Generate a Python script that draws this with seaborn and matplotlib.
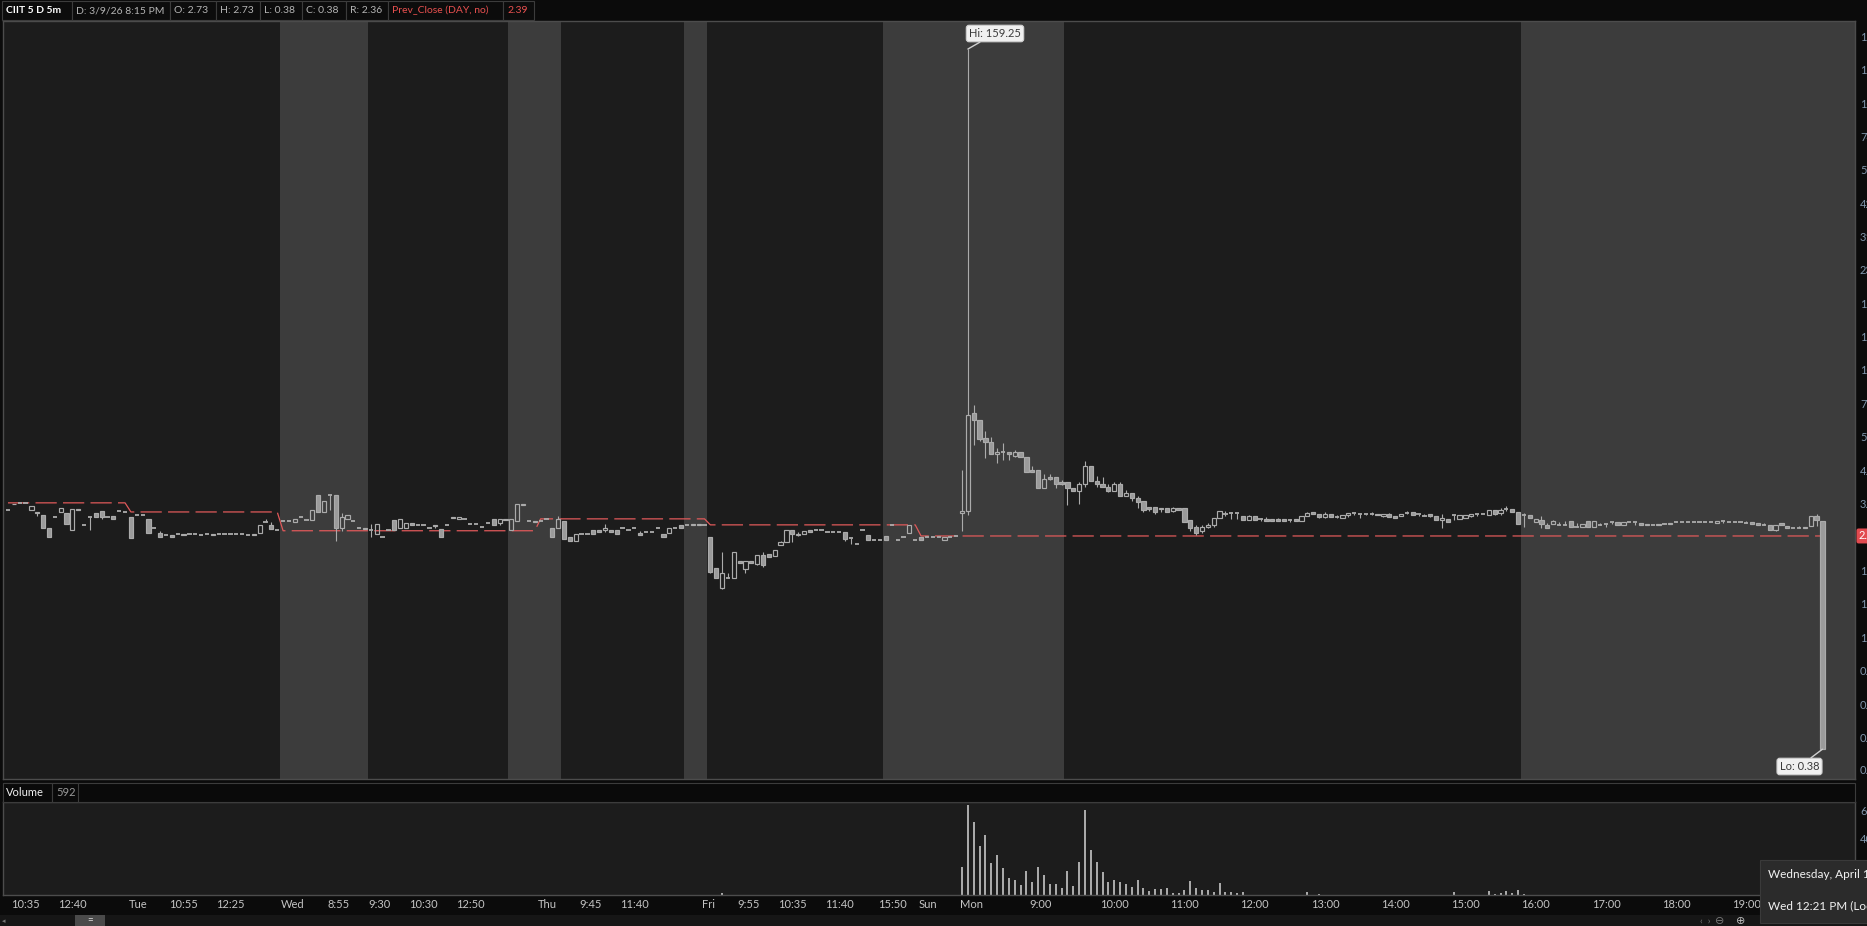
import numpy as np
import pandas as pd
import matplotlib
matplotlib.use("Agg")
import matplotlib.pyplot as plt
import matplotlib.transforms as mtransforms
from matplotlib.patches import Rectangle
import seaborn as sns

# ---------------- data ----------------
opens = [
    2.99, 3.16, 3.18, 3.18, 2.99, 2.95, 2.86, 2.56, 2.81, 2.94,
    2.92, 2.51, 3.01, 2.63, 2.82, 2.92, 2.96, 2.82, 2.83, 2.96,
    2.94, 2.81, 2.86, 2.86, 2.77, 2.56, 2.45, 2.42, 2.40, 2.44,
    2.44, 2.44, 2.44, 2.40, 2.44, 2.44, 2.44, 2.44, 2.44, 2.44,
    2.44, 2.42, 2.44, 2.45, 2.69, 2.63, 2.51, 2.73, 2.73, 2.70,
    2.82, 2.75, 2.75, 3.40, 2.93, 3.40, 3.40, 2.56, 2.77, 2.73,
    2.56, 2.56, 2.52, 2.43, 2.36, 2.52, 2.75, 2.56, 2.56, 2.67,
    2.63, 2.63, 2.56, 2.63, 2.54, 2.63, 2.82, 2.77, 2.77, 2.66,
    2.66, 2.59, 2.68, 2.77, 2.68, 2.77, 2.52, 2.73, 3.15, 2.73,
    2.73, 2.73, 2.77, 2.57, 2.56, 2.71, 2.37, 2.29, 2.44, 2.44,
    2.51, 2.51, 2.51, 2.51, 2.51, 2.55, 2.51, 2.55, 2.45, 2.48,
    2.48, 2.55, 2.44, 2.45, 2.55, 2.63, 2.63, 2.65, 2.65, 2.63,
    2.37, 1.82, 1.53, 1.66, 1.66, 1.92, 1.79, 1.92, 1.88, 2.02,
    2.05, 2.01, 2.21, 2.27, 2.51, 2.40, 2.44, 2.51, 2.51, 2.51,
    2.48, 2.48, 2.48, 2.48, 2.35, 2.23, 2.51, 2.42, 2.31, 2.31,
    2.38, 2.63, 2.31, 2.37, 2.45, 2.31, 2.37, 2.37, 2.37, 2.37,
    2.30, 2.37, 2.38, 2.92, 2.97, 6.89, 6.49, 5.57, 5.37, 4.84,
    4.92, 4.95, 4.78, 4.91, 4.73, 4.21, 4.21, 3.61, 3.98, 3.98,
    3.82, 3.82, 3.62, 3.51, 3.74, 4.38, 3.85, 3.74, 3.66, 3.51,
    3.74, 3.37, 3.47, 3.33, 3.24, 3.06, 3.06, 3.01, 3.05, 2.96,
    3.04, 3.03, 2.75, 2.58, 2.50, 2.58, 2.62, 2.78, 2.90, 2.91,
    2.91, 2.85, 2.74, 2.83, 2.77, 2.77, 2.77, 2.77, 2.77, 2.74,
    2.76, 2.73, 2.85, 2.93, 2.90, 2.82, 2.90, 2.82, 2.80, 2.86,
    2.92, 2.89, 2.89, 2.90, 2.90, 2.84, 2.89, 2.84, 2.85, 2.92,
    2.94, 2.88, 2.85, 2.89, 2.84, 2.74, 2.77, 2.86, 2.77, 2.79,
    2.83, 2.88, 2.88, 2.87, 2.99, 2.91, 3.01, 3.01, 2.95, 2.86,
    2.87, 2.70, 2.75, 2.62, 2.65, 2.63, 2.63, 2.71, 2.59, 2.59,
    2.71, 2.58, 2.63, 2.65, 2.70, 2.70, 2.63, 2.70, 2.70, 2.67,
    2.65, 2.63, 2.65, 2.65, 2.67, 2.69, 2.70, 2.70, 2.70, 2.70,
    2.70, 2.70, 2.68, 2.73, 2.70, 2.70, 2.70, 2.68, 2.69, 2.67,
    2.63, 2.63, 2.52, 2.67, 2.61, 2.56, 2.56, 2.59, 2.60, 2.85, 2.73,
]
highs = [
    2.99, 3.16, 3.18, 3.18, 3.10, 2.95, 2.86, 2.56, 2.81, 3.04,
    2.92, 3.01, 3.01, 2.63, 2.82, 2.92, 2.96, 2.82, 2.83, 2.96,
    2.94, 2.81, 2.86, 2.86, 2.77, 2.56, 2.49, 2.42, 2.40, 2.44,
    2.44, 2.44, 2.44, 2.40, 2.44, 2.44, 2.44, 2.44, 2.44, 2.44,
    2.44, 2.42, 2.44, 2.63, 2.77, 2.69, 2.51, 2.73, 2.73, 2.77,
    2.82, 2.75, 2.99, 3.40, 3.23, 3.40, 3.40, 2.92, 2.87, 2.73,
    2.56, 2.56, 2.65, 2.65, 2.36, 2.52, 2.75, 2.77, 2.68, 2.67,
    2.63, 2.63, 2.56, 2.63, 2.54, 2.63, 2.82, 2.82, 2.77, 2.66,
    2.66, 2.59, 2.68, 2.77, 2.77, 2.77, 2.77, 3.15, 3.15, 2.73,
    2.73, 2.73, 2.77, 2.57, 2.83, 2.71, 2.37, 2.44, 2.44, 2.44,
    2.51, 2.51, 2.64, 2.51, 2.51, 2.55, 2.51, 2.55, 2.49, 2.48,
    2.48, 2.55, 2.44, 2.55, 2.55, 2.63, 2.63, 2.65, 2.65, 2.63,
    2.37, 1.82, 2.09, 1.74, 2.09, 1.92, 1.92, 1.92, 2.02, 2.09,
    2.05, 2.12, 2.28, 2.51, 2.51, 2.47, 2.49, 2.51, 2.51, 2.51,
    2.48, 2.48, 2.48, 2.48, 2.35, 2.23, 2.51, 2.42, 2.31, 2.31,
    2.38, 2.63, 2.31, 2.37, 2.63, 2.31, 2.37, 2.37, 2.37, 2.37,
    2.37, 2.37, 2.38, 4.22, 159.25, 7.40, 6.49, 5.90, 5.62, 5.09,
    5.35, 4.95, 5.01, 4.95, 4.73, 4.38, 4.21, 4.08, 4.07, 3.98,
    3.88, 3.82, 3.62, 3.82, 4.57, 4.38, 4.01, 3.98, 3.74, 3.82,
    3.82, 3.55, 3.47, 3.38, 3.24, 3.07, 3.06, 3.05, 3.05, 3.06,
    3.04, 3.03, 2.75, 2.63, 2.63, 2.67, 2.78, 2.97, 2.97, 2.95,
    2.91, 2.85, 2.87, 2.83, 2.80, 2.81, 2.77, 2.78, 2.77, 2.77,
    2.76, 2.85, 2.95, 2.95, 2.90, 2.93, 2.90, 2.87, 2.86, 2.92,
    2.92, 2.89, 2.89, 2.93, 2.90, 2.90, 2.92, 2.84, 2.89, 2.96,
    2.94, 2.88, 2.90, 2.89, 2.84, 2.88, 2.77, 2.86, 2.86, 2.86,
    2.90, 2.90, 2.88, 2.99, 2.99, 3.03, 3.09, 3.01, 2.95, 2.92,
    2.87, 2.77, 2.85, 2.68, 2.75, 2.69, 2.72, 2.71, 2.68, 2.65,
    2.71, 2.71, 2.67, 2.65, 2.70, 2.70, 2.70, 2.70, 2.70, 2.67,
    2.65, 2.63, 2.65, 2.67, 2.67, 2.71, 2.70, 2.70, 2.70, 2.70,
    2.70, 2.70, 2.73, 2.73, 2.70, 2.70, 2.70, 2.71, 2.69, 2.67,
    2.67, 2.63, 2.63, 2.67, 2.61, 2.56, 2.60, 2.59, 2.83, 2.88, 2.73,
]
lows = [
    2.99, 3.14, 3.18, 3.18, 2.99, 2.85, 2.55, 2.37, 2.81, 2.94,
    2.65, 2.51, 2.98, 2.63, 2.51, 2.82, 2.77, 2.82, 2.77, 2.96,
    2.94, 2.34, 2.86, 2.86, 2.45, 2.56, 2.37, 2.42, 2.37, 2.44,
    2.41, 2.44, 2.44, 2.40, 2.44, 2.42, 2.44, 2.44, 2.44, 2.44,
    2.44, 2.42, 2.41, 2.45, 2.69, 2.54, 2.51, 2.73, 2.73, 2.70,
    2.82, 2.75, 2.75, 2.93, 2.93, 2.99, 2.29, 2.49, 2.77, 2.73,
    2.56, 2.54, 2.36, 2.43, 2.36, 2.52, 2.51, 2.56, 2.56, 2.63,
    2.63, 2.63, 2.56, 2.56, 2.37, 2.63, 2.79, 2.77, 2.77, 2.66,
    2.66, 2.59, 2.68, 2.63, 2.62, 2.74, 2.52, 2.73, 3.12, 2.73,
    2.69, 2.73, 2.77, 2.36, 2.56, 2.33, 2.29, 2.29, 2.44, 2.44,
    2.44, 2.48, 2.48, 2.48, 2.44, 2.55, 2.51, 2.55, 2.42, 2.48,
    2.48, 2.55, 2.37, 2.45, 2.55, 2.55, 2.63, 2.62, 2.62, 2.63,
    1.74, 1.66, 1.51, 1.66, 1.66, 1.89, 1.74, 1.89, 1.86, 1.83,
    2.00, 2.01, 2.21, 2.27, 2.27, 2.38, 2.44, 2.48, 2.51, 2.51,
    2.48, 2.48, 2.48, 2.29, 2.23, 2.23, 2.51, 2.31, 2.31, 2.31,
    2.31, 2.63, 2.31, 2.37, 2.45, 2.31, 2.30, 2.36, 2.37, 2.37,
    2.30, 2.37, 2.38, 2.49, 2.87, 5.24, 5.40, 4.70, 4.84, 4.48,
    4.61, 4.61, 4.72, 4.73, 4.16, 4.16, 3.61, 3.61, 3.86, 3.61,
    3.70, 3.11, 3.51, 3.15, 3.64, 3.84, 3.64, 3.64, 3.48, 3.51,
    3.37, 3.37, 3.22, 3.04, 2.93, 2.97, 2.90, 2.94, 2.93, 2.94,
    3.00, 2.69, 2.49, 2.42, 2.45, 2.56, 2.58, 2.78, 2.85, 2.77,
    2.77, 2.74, 2.74, 2.74, 2.73, 2.72, 2.72, 2.72, 2.72, 2.70,
    2.72, 2.73, 2.85, 2.89, 2.79, 2.79, 2.82, 2.78, 2.80, 2.82,
    2.86, 2.79, 2.86, 2.86, 2.87, 2.81, 2.81, 2.80, 2.85, 2.89,
    2.86, 2.83, 2.83, 2.82, 2.75, 2.56, 2.70, 2.75, 2.77, 2.79,
    2.81, 2.84, 2.88, 2.87, 2.86, 2.87, 2.96, 2.94, 2.65, 2.59,
    2.79, 2.70, 2.56, 2.56, 2.65, 2.63, 2.63, 2.58, 2.59, 2.59,
    2.58, 2.58, 2.63, 2.58, 2.65, 2.63, 2.63, 2.70, 2.63, 2.63,
    2.62, 2.63, 2.62, 2.65, 2.65, 2.69, 2.70, 2.70, 2.70, 2.70,
    2.70, 2.70, 2.68, 2.67, 2.70, 2.70, 2.70, 2.68, 2.65, 2.63,
    2.63, 2.51, 2.49, 2.62, 2.56, 2.56, 2.56, 2.56, 2.60, 2.60, 0.38,
]
closes = [
    2.99, 3.14, 3.18, 3.18, 3.10, 2.91, 2.55, 2.37, 2.81, 3.04,
    2.65, 3.01, 2.98, 2.63, 2.82, 2.82, 2.82, 2.82, 2.77, 2.96,
    2.94, 2.34, 2.86, 2.86, 2.45, 2.56, 2.37, 2.42, 2.37, 2.44,
    2.41, 2.44, 2.44, 2.40, 2.44, 2.42, 2.44, 2.44, 2.44, 2.44,
    2.44, 2.42, 2.41, 2.63, 2.69, 2.54, 2.51, 2.73, 2.73, 2.77,
    2.82, 2.75, 2.99, 2.93, 3.23, 3.40, 2.56, 2.81, 2.87, 2.73,
    2.56, 2.54, 2.52, 2.65, 2.36, 2.52, 2.51, 2.77, 2.68, 2.63,
    2.63, 2.63, 2.56, 2.60, 2.37, 2.63, 2.79, 2.82, 2.77, 2.66,
    2.66, 2.59, 2.68, 2.63, 2.77, 2.74, 2.77, 3.15, 3.12, 2.73,
    2.69, 2.73, 2.77, 2.36, 2.77, 2.33, 2.29, 2.44, 2.44, 2.44,
    2.44, 2.48, 2.56, 2.48, 2.44, 2.55, 2.51, 2.55, 2.42, 2.48,
    2.48, 2.55, 2.37, 2.55, 2.55, 2.55, 2.63, 2.62, 2.62, 2.63,
    1.75, 1.66, 1.74, 1.66, 2.09, 1.89, 1.92, 1.89, 2.02, 1.86,
    2.00, 2.12, 2.27, 2.51, 2.44, 2.44, 2.49, 2.48, 2.51, 2.51,
    2.48, 2.48, 2.48, 2.33, 2.35, 2.23, 2.51, 2.31, 2.31, 2.31,
    2.31, 2.63, 2.31, 2.37, 2.63, 2.31, 2.30, 2.36, 2.37, 2.37,
    2.37, 2.37, 2.38, 2.97, 6.77, 6.49, 5.51, 5.37, 4.84, 4.95,
    4.92, 4.84, 4.95, 4.73, 4.16, 4.16, 3.61, 3.91, 3.91, 3.74,
    3.74, 3.61, 3.51, 3.74, 4.38, 3.84, 3.74, 3.64, 3.51, 3.74,
    3.37, 3.47, 3.33, 3.19, 2.99, 3.01, 2.95, 3.05, 2.93, 3.03,
    3.00, 2.69, 2.56, 2.45, 2.59, 2.63, 2.78, 2.97, 2.90, 2.91,
    2.91, 2.74, 2.83, 2.74, 2.77, 2.72, 2.72, 2.72, 2.72, 2.74,
    2.72, 2.85, 2.91, 2.89, 2.82, 2.90, 2.82, 2.82, 2.86, 2.92,
    2.92, 2.89, 2.89, 2.90, 2.87, 2.90, 2.81, 2.80, 2.89, 2.92,
    2.86, 2.88, 2.85, 2.85, 2.75, 2.80, 2.70, 2.86, 2.86, 2.86,
    2.88, 2.88, 2.88, 2.99, 2.90, 2.99, 3.01, 2.94, 2.65, 2.86,
    2.79, 2.77, 2.65, 2.56, 2.72, 2.63, 2.63, 2.58, 2.59, 2.65,
    2.58, 2.71, 2.63, 2.65, 2.70, 2.63, 2.70, 2.70, 2.70, 2.63,
    2.62, 2.63, 2.62, 2.65, 2.65, 2.69, 2.70, 2.70, 2.70, 2.70,
    2.70, 2.70, 2.73, 2.73, 2.70, 2.70, 2.70, 2.68, 2.65, 2.63,
    2.63, 2.51, 2.63, 2.62, 2.56, 2.56, 2.56, 2.56, 2.83, 2.75, 0.38,
]

# sessions (first bar of each day) and the Prev_Close study value of that day
session_first_bar = [0, 21, 47, 91, 120, 156]
session_prev_close = [3.18, 2.94, 2.50, 2.77, 2.63, 2.39]

# extended-hours shaded spans (bar index bounds)
ext_hours_spans = [(46.5, 61.5), (85.5, 94.5), (115.5, 119.5), (149.5, 180.5), (258.5, 330)]

# volume (bars with visible volume)
vol_bar = [122, 163, 164, 165, 166, 167, 168, 169, 170, 171, 172, 173, 174, 175, 176,
           177, 178, 179, 180, 181, 182, 183, 184, 185, 186, 187, 188, 189, 190, 191,
           192, 193, 194, 195, 196, 197, 198, 199, 200, 201, 202, 203, 204, 205, 206,
           207, 208, 209, 210, 211, 222, 224, 247, 253, 254, 255, 256, 257, 258, 259]
vol_shares = [16000, 199000, 634000, 514000, 345000, 422000, 225000, 282000, 192000, 120000,
              106000, 70000, 169000, 94000, 197000, 141000, 77000, 77000, 52000, 169000,
              63000, 232000, 598000, 317000, 232000, 162000, 92000, 106000, 89000, 80000,
              59000, 106000, 52000, 31000, 45000, 45000, 52000, 16000, 16000, 35000,
              99000, 49000, 35000, 35000, 21000, 84000, 21000, 21000, 16000, 21000,
              21000, 7000, 21000, 28000, 7000, 12000, 28000, 12000, 35000, 7000]

# x-axis labels (bar index, text)
xtick_bars = [1, 9, 21, 28, 36, 47, 55, 62, 69, 77, 91, 98, 105, 119, 125, 132, 140, 149,
              156, 163, 175, 187, 199, 211, 223, 235, 247, 259, 271, 283, 295]
xtick_text = ["10:35", "12:40", "Tue", "10:55", "12:25", "Wed", "8:55", "9:30", "10:30",
              "12:50", "Thu", "9:45", "11:40", "Fri", "9:55", "10:35", "11:40", "15:50",
              "Sun", "Mon", "9:00", "10:00", "11:00", "12:00", "13:00", "14:00", "15:00",
              "16:00", "17:00", "18:00", "19:00"]

price_ticks = [0.32, 0.42, 0.56, 0.75, 1, 1.33, 1.78, 2.37, 3.16, 4.22, 5.62, 7.5, 10,
               13.34, 17.78, 23.71, 31.62, 42.17, 56.23, 74.99, 100, 133.35, 177.83]
price_tick_labels = ["0.32", "0.42", "0.56", "0.75", "1", "1.33", "1.78", "2.37", "3.16",
                     "4.22", "5.62", "7.5", "10", "13.34", "17.78", "23.71", "31.62",
                     "42.17", "56.23", "74.99", "100", "133.35", "177.83"]
vol_ticks = [400000, 600000]
vol_tick_labels = ["400,000", "600,000"]

header_items = ["CIIT 5 D 5m", "D: 3/9/26 8:15 PM", "O: 2.73", "H: 2.73", "L: 0.38",
                "C: 0.38", "R: 2.36", "Prev_Close (DAY, no)", "2.39"]

# ---------------- styling ----------------
sns.set_theme(style="dark")
plt.rcParams["font.family"] = ["Lato", "DejaVu Sans"]

W, H = 1867, 926
fig = plt.figure(figsize=(W / 100, H / 100), dpi=100)
fig.patch.set_facecolor("#0b0b0b")


def fxp(px):
    return px / W


def fyp(py):
    return 1 - py / H


SP = 5.853      # px per bar
X0PX = 8.0      # px of bar 0
LPX, RPX = 3, 1855
xmin = -(X0PX - LPX) / SP
xmax = (RPX - X0PX) / SP

ax = fig.add_axes([fxp(LPX), fyp(779), fxp(RPX - LPX), (779 - 21) / H])
axv = fig.add_axes([fxp(LPX), fyp(895), fxp(RPX - LPX), (895 - 802) / H])

PANEL = "#1c1c1c"
SHADE = "#3c3c3c"
EDGE = "#4c4c4c"
CANDLE = "#ababab"
FILL = "#9b9b9b"
RED = "#e0595a"
AXTXT = "#8196ab"

for a in (ax, axv):
    a.set_facecolor(PANEL)
    a.grid(False)
    for s in a.spines.values():
        s.set_color(EDGE)
        s.set_linewidth(1)
    a.set_xlim(xmin, xmax)
    a.set_xticks([])

for a0, b0 in ext_hours_spans:
    ax.axvspan(a0, min(b0, xmax + 1), facecolor=SHADE, lw=0, zorder=0.5)

# Prev close dashed line
n = len(opens)
assert len(highs) == n and len(lows) == n and len(closes) == n
x = np.arange(n)
prev_line = np.zeros(n)
bounds = session_first_bar + [n]
for k in range(len(session_first_bar)):
    prev_line[bounds[k]:bounds[k + 1]] = session_prev_close[k]
df_prev = pd.DataFrame({"bar": x, "prev": prev_line})
sns.lineplot(data=df_prev, x="bar", y="prev", ax=ax, color=RED, lw=0.9,
             linestyle=(0, (17, 5)), estimator=None, legend=False, zorder=2)

# candles
o = np.array(opens); h = np.array(highs); l = np.array(lows); c = np.array(closes)
top = np.maximum(o, c)
bot = np.minimum(o, c)
has_body = top / bot > 1.006
up = has_body & (c > o)
dn = has_body & (c <= o)
flat = ~has_body
BW = 0.72
hu = h > top * 1.001
lu = l < bot / 1.001
ax.vlines(x[hu], top[hu], h[hu], color=CANDLE, lw=0.8, zorder=3)
ax.vlines(x[lu], l[lu], bot[lu], color=CANDLE, lw=0.8, zorder=3)
ax.bar(x[up], (top - bot)[up], bottom=bot[up], width=BW, facecolor="none",
       edgecolor=CANDLE, linewidth=0.85, zorder=4)
ax.bar(x[dn], (top - bot)[dn], bottom=bot[dn], width=BW, facecolor=FILL,
       edgecolor=CANDLE, linewidth=0.85, zorder=4)
ax.hlines(c[flat], x[flat] - BW / 2, x[flat] + BW / 2, color=CANDLE, lw=1.3, zorder=4)

ax.set_yscale("log")
ax.set_ylim(10 ** ((637 - 779) / 267.0), 10 ** ((637 - 21) / 267.0))
ax.minorticks_off()
ax.set_yticks(price_ticks)
ax.set_yticklabels(price_tick_labels)
ax.yaxis.tick_right()
ax.tick_params(axis="y", length=0, pad=3.6, labelsize=8, labelcolor=AXTXT)
ax.set_xlabel(""); ax.set_ylabel("")

# Hi / Lo labels
ax.annotate("Hi: 159.25", xy=(164, 159.25), xycoords="data",
            xytext=(fxp(995), fyp(33.5)), textcoords="figure fraction",
            ha="center", va="center", fontsize=8, color="#3a3a3a", zorder=6,
            bbox=dict(boxstyle="round,pad=0.25", fc="#f0f0f0", ec="#cfcfcf", lw=0.8),
            arrowprops=dict(arrowstyle="-", color="#cfcfcf", lw=1, shrinkA=0, shrinkB=0))
ax.annotate("Lo: 0.38", xy=(310, 0.38), xycoords="data",
            xytext=(fxp(1799.5), fyp(766.5)), textcoords="figure fraction",
            ha="center", va="center", fontsize=8, color="#3a3a3a", zorder=6,
            bbox=dict(boxstyle="round,pad=0.25", fc="#f0f0f0", ec="#cfcfcf", lw=0.8),
            arrowprops=dict(arrowstyle="-", color="#cfcfcf", lw=1, shrinkA=0, shrinkB=0),
            annotation_clip=False)

# red price bubble on the right axis
ax.text(1.0 + 3.5 / (RPX - LPX), session_prev_close[-1], "2.39",
        transform=mtransforms.blended_transform_factory(ax.transAxes, ax.transData),
        ha="left", va="center", fontsize=8, color="white", clip_on=False, zorder=7,
        bbox=dict(boxstyle="round,pad=0.18", fc="#e24a4f", ec="none"))

# volume
axv.vlines(vol_bar, 0, vol_shares, color="#d4d4d4", lw=1.1)
axv.set_ylim(0, 655000)
axv.set_yticks(vol_ticks)
axv.set_yticklabels(vol_tick_labels)
axv.yaxis.tick_right()
axv.tick_params(axis="y", length=0, pad=3.6, labelsize=8, labelcolor=AXTXT)

# x labels
bt = mtransforms.blended_transform_factory(axv.transData, fig.transFigure)
for b, t in zip(xtick_bars, xtick_text):
    axv.text(b - 0.43, fyp(905), t, transform=bt, ha="left", va="center",
             fontsize=8, color="#c4c4c4", clip_on=False)


# ---------------- chrome: header, volume header, bottom bar, tooltip ----------------
def box(x0, x1, y0, y1, fc, ec="none", lw=0.8, z=1):
    fig.patches.append(Rectangle((fxp(x0), fyp(y1)), fxp(x1 - x0), (y1 - y0) / H,
                                 transform=fig.transFigure, facecolor=fc, edgecolor=ec,
                                 lw=lw, zorder=z))


seps = [2, 72, 170, 216, 260, 302, 346, 388, 503, 534]
for i in range(len(seps) - 1):
    box(seps[i], seps[i + 1], 1, 19.5, "#0c0c0c", "#3c3c3c")
for i, t in enumerate(header_items):
    col = "#b4b4b4"
    weight = "normal"
    if i == 0:
        col, weight = "#ffffff", "bold"
    if i >= 7:
        col = "#e8504f"
    fig.text(fxp(seps[i] + 4), fyp(10.5), t, ha="left", va="center", fontsize=7.5,
             color=col, fontweight=weight)

# volume header row
box(3, 1855, 783, 802, "#0a0a0a", "#3c3c3c")
box(3, 52, 783, 802, "#0a0a0a", "#3c3c3c")
box(52, 78, 783, 802, "#0a0a0a", "#3c3c3c")
fig.text(fxp(6), fyp(793), "Volume", ha="left", va="center", fontsize=8, color="#f0f0f0")
fig.text(fxp(56), fyp(793), "592", ha="left", va="center", fontsize=8, color="#9a9a9a")

# bottom scroll bar
box(0, 1867, 915, 926, "#161616")
box(75, 105, 915, 926, "#4a4a4a")
fig.text(fxp(90), fyp(921), "=", ha="center", va="center", fontsize=7, color="#e0e0e0")
fig.text(fxp(4), fyp(921), "\u25c2", ha="center", va="center", fontsize=5, color="#777777")
fig.text(fxp(1705), fyp(921), "\u2039  \u203a", ha="center", va="center", fontsize=7, color="#777777")
fig.text(fxp(1720), fyp(921), "\u2296", ha="center", va="center", fontsize=8, color="#777777",
         family="DejaVu Sans")
fig.text(fxp(1741), fyp(921), "\u2295", ha="center", va="center", fontsize=8, color="#bbbbbb",
         family="DejaVu Sans")

# tooltip
box(1760, 1890, 860, 923, "#2b2b2b", "#3a3a3a", z=5)
fig.text(fxp(1768), fyp(874), "Wednesday, April 1", ha="left", va="center", fontsize=8.5,
         color="#f2f2f2", zorder=6)
fig.text(fxp(1768), fyp(906), "Wed 12:21 PM (Local)", ha="left", va="center", fontsize=8.5,
         color="#f2f2f2", zorder=6)

fig.savefig("out.png", dpi=100, facecolor=fig.get_facecolor())
